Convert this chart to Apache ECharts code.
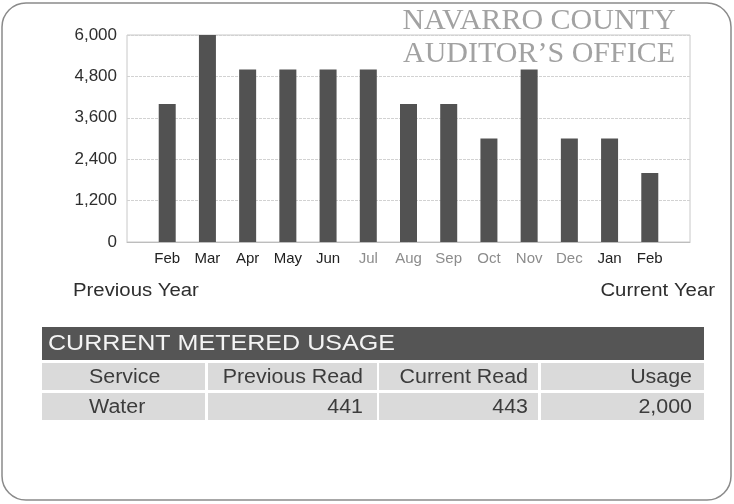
<!DOCTYPE html>
<html>
<head>
<meta charset="utf-8">
<script src="https://cdn.jsdelivr.net/npm/echarts@6/dist/echarts.min.js"></script>
<style>
  html, body { margin: 0; padding: 0; background: #fff; }
  #chart { width: 734px; height: 504px; }
</style>
</head>
<body>
<div id="chart"></div>
<script>
// monthly water usage, previous Feb through current Feb
const months = ['Feb', 'Mar', 'Apr', 'May', 'Jun', 'Jul', 'Aug', 'Sep', 'Oct', 'Nov', 'Dec', 'Jan', 'Feb'];
const usage = [4000, 6000, 5000, 5000, 5000, 5000, 4000, 4000, 3000, 5000, 3000, 3000, 2000];
const yTicks = [0, 1200, 2400, 3600, 4800, 6000];

const titleLines = ['NAVARRO COUNTY', 'AUDITOR\u2019S OFFICE'];
const periodLabels = ['Previous Year', 'Current Year'];

const tableTitle = 'CURRENT METERED USAGE';
const tableHeaders = ['Service', 'Previous Read', 'Current Read', 'Usage'];
const tableRow = ['Water', '441', '443', '2,000'];

// table layout (pixels)
const colLeft = [42, 208, 379, 541];
const colRight = [205, 377, 538, 704];
const rowTop = [363, 393];
const rowHeight = 27;

const FONT = '"Liberation Sans", Arial, sans-serif';
const SERIF = '"Liberation Serif", "Times New Roman", serif';

function stretchedText(x, y, text, size, color, align, sx) {
  return {
    type: 'text',
    x,
    y,
    scaleX: sx,
    style: {
      text,
      fill: color,
      font: `${size}px ${FONT}`,
      align,
      verticalAlign: 'middle',
    },
  };
}

function buildGraphics() {
  const g = [];
  // rounded frame of the bill section
  g.push({
    type: 'rect',
    shape: { x: 2, y: 3, width: 729, height: 497, r: 24 },
    style: { fill: 'none', stroke: '#8a8a8a', lineWidth: 1.5 },
    z: 0,
  });
  // office watermark
  titleLines.forEach((line, i) => {
    g.push({
      type: 'text',
      x: 539,
      y: 21 + i * 33,
      style: {
        text: line,
        fill: '#a2a2a2',
        font: `30px ${SERIF}`,
        align: 'center',
        verticalAlign: 'middle',
      },
      z: 10,
    });
  });
  g.push(stretchedText(73, 291, periodLabels[0], 18, '#2e2e2e', 'left', 1.13));
  g.push(stretchedText(715, 291, periodLabels[1], 18, '#2e2e2e', 'right', 1.13));

  // table header bar
  g.push({
    type: 'rect',
    shape: { x: colLeft[0], y: 327, width: colRight[3] - colLeft[0], height: 33 },
    style: { fill: '#555' },
  });
  g.push(stretchedText(48, 344, tableTitle, 22, '#f4f4f4', 'left', 1.14));

  [tableHeaders, tableRow].forEach((row, r) => {
    row.forEach((cell, c) => {
      g.push({
        type: 'rect',
        shape: { x: colLeft[c], y: rowTop[r], width: colRight[c] - colLeft[c], height: rowHeight },
        style: { fill: '#dadada' },
      });
      const cy = rowTop[r] + rowHeight / 2 + 1;
      if (c === 0) {
        g.push(stretchedText(89, cy, cell, 20, '#3c3c3c', 'left', 1.07));
      } else {
        g.push(stretchedText(colRight[c] - (c === 1 ? 14 : c === 2 ? 10 : 12), cy, cell, 20, '#3c3c3c', 'right', 1.07));
      }
    });
  });
  return g;
}

const chart = echarts.init(document.getElementById('chart'));
chart.setOption({
  backgroundColor: '#fff',
  animation: false,
  grid: {
    left: 127,
    right: 44,
    top: 35,
    bottom: 262,
    show: true,
    borderColor: '#c8c8c8',
    borderWidth: 1,
  },
  xAxis: {
    type: 'value',
    min: -1,
    max: 13,
    interval: 1,
    axisLine: { show: true, lineStyle: { color: '#bdbdbd' } },
    axisTick: { show: false },
    splitLine: { show: false },
    axisLabel: {
      margin: 9,
      fontFamily: FONT,
      fontSize: 15,
      color: (value) => (value >= 5 && value <= 10 ? '#8c8c8c' : '#222'),
      formatter: (value) => months[value] || '',
    },
  },
  yAxis: {
    type: 'value',
    min: yTicks[0],
    max: yTicks[yTicks.length - 1],
    interval: yTicks[1] - yTicks[0],
    axisLine: { show: false },
    axisTick: { show: false },
    splitLine: { lineStyle: { color: '#d2d2d2', type: [3, 1] } },
    axisLabel: {
      margin: 10,
      fontFamily: FONT,
      fontSize: 17,
      color: '#2e2e2e',
      formatter: (value) => value.toLocaleString('en-US'),
    },
  },
  series: [
    {
      type: 'bar',
      barWidth: 17,
      data: usage.map((v, i) => [i, v]),
      itemStyle: { color: '#525252' },
    },
  ],
  graphic: buildGraphics(),
});
</script>
</body>
</html>
